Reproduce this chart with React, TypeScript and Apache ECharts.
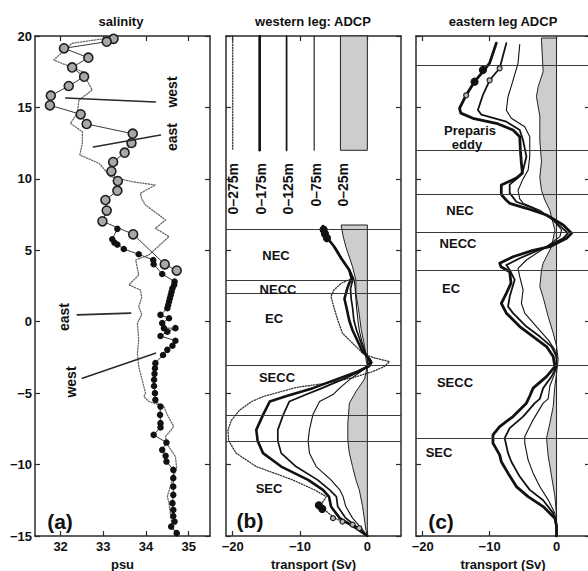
import React, { useEffect, useRef } from 'react';
import * as echarts from 'echarts';

// ---------- axes ----------
const latTicks = [-15, -10, -5, 0, 5, 10, 15, 20];
const psuTicks = [32, 33, 34, 35];
const svTicks = [-20, -10, 0];

// ---------- panel (a): salinity [psu, lat] ----------
const westOpen: number[][] = [
  [33.24, 19.8], [33.08, 19.6], [32.08, 19.14], [32.65, 18.48], [32.27, 17.8], [32.55, 17.15],
  [32.19, 16.5], [31.77, 15.82], [31.75, 15.15], [32.47, 14.52], [32.61, 13.84], [33.69, 13.16],
  [33.66, 12.51], [33.5, 11.83], [33.23, 11.18], [33.19, 10.53], [33.34, 9.85], [33.33, 9.17],
  [33.05, 8.52], [33.08, 7.78], [32.98, 7.03], [33.7, 6.12], [34.44, 4.02], [34.72, 3.58],
];
const westFilled: number[][] = [
  [33.33, 6.5], [33.21, 5.77], [33.26, 5.54], [33.33, 5.4], [33.48, 5.09], [33.83, 4.72],
  [34.17, 4.32], [34.18, 4.02], [34.38, 3.34], [34.67, 2.81], [34.66, 2.58], [34.62, 2.34],
  [34.6, 2.1], [34.58, 1.87], [34.56, 1.64], [34.54, 1.41], [34.52, 1.17], [34.5, 0.94],
  [34.34, 0.48], [34.54, 0.24], [34.38, -0.1], [34.42, -0.45], [34.69, -0.45], [34.5, -0.7],
  [34.34, -1.0], [34.69, -1.33], [34.62, -1.68], [34.5, -1.97], [34.4, -2.33], [34.22, -2.9],
  [34.21, -3.26], [34.2, -3.65], [34.19, -4.06], [34.19, -4.5], [34.21, -5.0], [34.22, -5.47],
  [34.34, -5.94], [34.33, -6.52], [34.34, -7.1], [34.34, -7.4], [34.18, -7.92], [34.48, -8.46],
  [34.38, -8.97], [34.46, -9.39], [34.48, -9.79], [34.64, -10.37], [34.64, -10.95], [34.64, -11.54],
  [34.64, -12.12], [34.62, -12.7], [34.64, -13.17], [34.64, -13.6], [34.67, -13.99], [34.59, -14.34],
  [34.72, -14.8],
];
const eastSal: number[][] = [
  [33.21, 19.9], [32.27, 19.49], [31.84, 18.32], [32.51, 17.5], [32.74, 16.22], [32.43, 15.52],
  [32.39, 14.59], [32.23, 13.89], [32.51, 13.3], [32.51, 12.5], [32.45, 11.67], [32.9, 11.09],
  [33.17, 10.15], [33.68, 9.8], [34.22, 9.57], [33.87, 8.99], [33.9, 8.6], [33.99, 8.17],
  [34.46, 7.12], [34.22, 6.54], [34.54, 5.96], [34.07, 4.68], [33.76, 4.32], [33.83, 3.27],
  [33.6, 2.58], [33.87, 2.22], [33.9, 1.7], [33.83, 1.06], [33.9, 0.5], [33.8, -0.1],
  [33.83, -1.27], [33.8, -2.2], [33.83, -3.14], [33.91, -4.07], [33.99, -5.0], [33.95, -5.24],
  [34.07, -5.59], [34.42, -5.94], [34.5, -6.52], [34.65, -7.34], [34.46, -8.04], [34.48, -8.5],
  [34.69, -9.44], [34.72, -10.25], [34.58, -11.42], [34.5, -12.24], [34.54, -12.7], [34.58, -13.63],
  [34.62, -14.34], [34.69, -14.8],
];
const leaderWestN = [[32.12, 15.66], [34.22, 15.38]];
const leaderEastN = [[32.77, 12.23], [34.34, 13.07]];
const leaderEastS = [[32.39, 0.48], [33.64, 0.6]];
const leaderWestS = [[32.51, -3.95], [34.22, -2.2]];

// ---------- panel (b): western leg ADCP [transport Sv, lat] ----------
const w275: number[][] = [
  [-6.6, 6.7], [-6.2, 6.0], [-5.0, 5.3], [-3.9, 4.44], [-2.7, 3.62], [-2.4, 3.0], [-3.9, 2.69],
  [-5.0, 2.2], [-5.4, 1.76], [-5.0, 1.06], [-4.4, 0.13], [-3.7, -0.8], [-2.2, -1.5], [-0.7, -2.2],
  [0.8, -2.5], [3.3, -2.79], [2.5, -3.14], [0.8, -3.49], [-2, -3.9], [-6, -4.3], [-10.6, -4.6],
  [-15.5, -5.24], [-17.2, -5.59], [-19, -6.2], [-20.2, -6.9], [-20.7, -7.57], [-20.6, -8.34],
  [-19.5, -9.2], [-16.5, -10.14], [-11.1, -11.07], [-7.85, -11.77], [-6.1, -12.24], [-7.0, -12.9],
  [-4.9, -13.75], [-2.0, -14.3], [0, -15],
];
const w175: number[][] = [
  [-6.6, 6.7], [-6.2, 6.0], [-5.0, 5.3], [-3.9, 4.44], [-2.7, 3.62], [-2.3, 3.0], [-2.7, 2.7],
  [-3.0, 2.3], [-3.4, 1.6], [-3.1, 1.0], [-2.7, 0.1], [-2.2, -0.6], [-1.4, -1.4], [-0.7, -2.1],
  [0.3, -2.6], [0.6, -2.85], [0.3, -3.1], [-1.5, -3.5], [-4.1, -3.95], [-8.1, -4.65], [-12, -5.2],
  [-14.5, -5.59], [-15.5, -6.52], [-16.5, -7.57], [-16.3, -8.34], [-15.5, -9.2], [-12.8, -10.14],
  [-8.8, -11.07], [-6.6, -11.77], [-5.7, -12.24], [-5.4, -12.94], [-4.1, -13.75], [-1.5, -14.5], [0, -15],
];
const w125: number[][] = [
  [-6.5, 6.6], [-6.0, 5.9], [-4.8, 5.2], [-3.8, 4.4], [-2.6, 3.6], [-2.1, 3.0], [-2.3, 2.7],
  [-2.5, 2.3], [-2.4, 1.6], [-2.2, 1.0], [-2.0, 0.1], [-1.6, -0.6], [-1.0, -1.4], [-0.4, -2.1],
  [0.2, -2.6], [0.3, -2.85], [0.1, -3.1], [-1.2, -3.5], [-3.5, -4.0], [-7, -4.7], [-9.1, -5.1],
  [-11.6, -5.59], [-12.5, -6.52], [-13.3, -7.57], [-13.3, -8.34], [-12.8, -9.2], [-10.6, -10.14],
  [-7.4, -11.07], [-5.6, -11.77], [-4.6, -12.24], [-4.4, -12.94], [-3.2, -13.75], [-1.2, -14.5], [0, -15],
];
const w75: number[][] = [
  [-6.4, 6.5], [-5.8, 5.8], [-4.6, 5.1], [-3.6, 4.3], [-2.5, 3.5], [-2.0, 3.0], [-1.9, 2.7],
  [-1.8, 2.3], [-1.7, 1.6], [-1.6, 1.0], [-1.4, 0.1], [-1.2, -0.6], [-0.8, -1.4], [-0.3, -2.1],
  [0.0, -2.6], [0.1, -2.85], [0, -3.1], [-1, -3.5], [-2.5, -4.0], [-4, -4.6], [-5.1, -5.1],
  [-7.1, -5.59], [-8.1, -6.52], [-8.6, -7.57], [-8.8, -8.34], [-8.6, -9.2], [-7.6, -10.14],
  [-5.4, -11.07], [-4.1, -11.77], [-3.6, -12.24], [-3.2, -12.94], [-2.2, -13.75], [-0.8, -14.5], [0, -15],
];
const w25: number[][] = [
  [-3.9, 6.77], [-3.6, 6.0], [-3.2, 5.25], [-2.2, 3.85], [-1.7, 2.9], [-1.7, 2.0], [-1.3, 0.83],
  [-0.9, -0.57], [-0.4, -1.74], [-0.2, -2.67], [0, -3.1], [-0.4, -4.0], [-1.7, -4.9], [-2.67, -5.7],
  [-2.9, -7.1], [-2.9, -8.34], [-2.67, -9.2], [-2.2, -10.14], [-1.7, -11.07], [-1.2, -11.77],
  [-0.7, -12.94], [-0.2, -14.6], [0, -15],
];
const wTopBlob = [[-6.5, 6.45], [-6.3, 6.15], [-6.0, 5.85]];
const wBottomBlob = [[-7.2, -12.85], [-6.7, -13.1]];
const wBottomRings = [[-5.1, -13.75], [-3.7, -13.99], [-2.2, -14.2], [-1.2, -14.45]];
const wBoundaries = [6.45, 2.88, 1.99, -3.07, -6.52, -8.34];
// legend keys of panel (b)
const legendX = [-20, -16, -12, -7.9];
const legendY = [20, 12];
const legendBox = [[-4, 20], [-4, 12]];
const legendNames = ['0–275m', '0–175m', '0–125m', '0–75m', '0–25m'];

// ---------- panel (c): eastern leg ADCP ----------
const e175: number[][] = [
  [-9.0, 19.5], [-10, 18.1], [-11, 17.5], [-12.25, 16.8], [-13.5, 15.87], [-14.5, 14.94], [-14.3, 14.6],
  [-12.5, 14.24], [-9.0, 13.89], [-6.5, 13.42], [-5.5, 12.95], [-5.4, 12.0], [-5.25, 11.09], [-5.1, 10.4],
  [-6.0, 10.05], [-8.25, 9.57], [-8.25, 8.9], [-7.5, 8.5], [-7.0, 8.29], [-4.5, 7.94], [-1.5, 7.47],
  [1.0, 6.77], [2.25, 6.19], [1.5, 5.84], [-1.0, 5.25], [-3.5, 5.0], [-6.5, 4.55], [-8.5, 4.09],
  [-8.3, 3.85], [-7.0, 3.5], [-6.8, 2.7], [-7.5, 1.99], [-8.25, 1.29], [-7.5, 0.6], [-5.5, -0.34],
  [-3.5, -1.04], [-1.5, -1.74], [-0.5, -2.44], [-0.25, -3.14], [-1.5, -3.84], [-3.5, -4.65],
  [-4.0, -5.2], [-4.5, -5.7], [-6.5, -6.64], [-8.5, -7.34], [-9.5, -7.92], [-9.5, -8.5], [-8.5, -9.32],
  [-8.25, -9.8], [-7.25, -10.6], [-6.0, -11.54], [-4.25, -12.24], [-2.0, -12.94], [-0.25, -13.75],
  [0, -14.3], [0, -15],
];
const e125: number[][] = [
  [-7.5, 19.5], [-8.5, 17.74], [-10, 16.9], [-11, 15.87], [-11.75, 14.82], [-11.25, 14.5], [-7.5, 14.0],
  [-5.5, 13.42], [-5.0, 12.7], [-4.5, 11.56], [-5, 10.6], [-5.5, 10.2], [-7.0, 9.6], [-7.0, 9.0],
  [-6.0, 8.4], [-3.5, 7.94], [-1.0, 7.3], [1.0, 6.5], [1.7, 6.2], [1.0, 5.84], [-1.5, 5.25],
  [-5.5, 4.44], [-7.5, 3.97], [-7.0, 3.62], [-6.25, 2.93], [-7, 1.76], [-7.25, 1.06], [-6.5, 0.6],
  [-4.5, -0.34], [-2.5, -1.04], [-0.75, -1.74], [0, -2.44], [0, -3.14], [-0.75, -3.84], [-2.0, -4.65],
  [-2.5, -5.4], [-3.25, -5.7], [-5.0, -6.64], [-7.0, -7.45], [-7.75, -8.15], [-7.25, -9.2],
  [-6.75, -9.8], [-5.5, -10.84], [-4.0, -11.77], [-2.0, -12.5], [-0.5, -13.4], [0, -14.3], [0, -15],
];
const e75: number[][] = [
  [-5.5, 19.4], [-5.75, 18.1], [-6.5, 16.9], [-7.25, 15.75], [-7.5, 14.8], [-6.75, 14.24], [-4.75, 13.65],
  [-4.0, 12.95], [-4.0, 11.56], [-4.25, 10.6], [-5.0, 10.0], [-5.75, 9.2], [-5.5, 8.6], [-5.0, 8.3],
  [-2.5, 7.8], [-0.5, 7.12], [0.75, 6.42], [0.5, 5.96], [-1.5, 5.25], [-4.5, 4.32], [-5.75, 3.74],
  [-5.5, 3.15], [-5.0, 2.22], [-5.25, 1.29], [-4.75, 0.6], [-3.0, -0.34], [-1.25, -1.27], [-0.25, -1.97],
  [0, -2.67], [-0.25, -3.6], [-1.0, -4.5], [-1.25, -5.4], [-2.0, -5.7], [-3.5, -6.87], [-4.75, -8.04],
  [-4.75, -8.5], [-4.25, -9.67], [-3.5, -10.6], [-2.5, -11.54], [-1.25, -12.47], [-0.25, -13.4],
  [0, -14.3], [0, -15],
];
const e25: number[][] = [
  [-2.25, 19.86], [-2.25, 19.7], [-2.0, 17.5], [-2.75, 16.45], [-3.0, 15.75], [-2.5, 14.4], [-2.5, 12.7],
  [-2.25, 11.2], [-2.5, 10.1], [-2.25, 9.2], [-1.75, 8.52], [-1.0, 7.8], [-0.25, 6.4], [-0.75, 5.25],
  [-2.0, 4.1], [-2.25, 3.6], [-2.5, 2.46], [-2.0, 1.7], [-1.25, 0.36], [-0.5, -0.8], [0, -1.7],
  [0.25, -2.65], [0, -3.6], [-0.25, -4.5], [-0.5, -5.94], [-1.0, -7.1], [-1.5, -8.15], [-1.25, -9.4],
  [-0.75, -10.8], [-0.25, -12.2], [0, -13.6], [0, -15],
];
const eBlobs = [[-11, 17.62], [-12.25, 16.8]];
const eRings175 = [[-13.5, 15.85]];
const eRings125 = [[-8.5, 17.74], [-10, 16.9]];
const eBoundaries = [17.97, 11.97, 8.92, 6.26, 3.58, -3.07, -8.15];

// ---------- styling ----------
const FONT = '"Liberation Sans", Arial, Helvetica, sans-serif';
const AX = '#2b2b2b';
const INK = '#111';
const GRAYFILL = '#cdcdcd';

const minusFmt = (v: number) => (v < 0 ? '\u2212' + Math.abs(v) : String(v));

function xAxesFor(gi: number, min: number, max: number, ticks: number[], name: string) {
  const line = { show: true, onZero: false, lineStyle: { color: AX, width: 1.5 } };
  return [
    {
      type: 'value', gridIndex: gi, position: 'bottom', min, max,
      axisLine: line,
      axisTick: { show: true, inside: true, length: 5, customValues: ticks, lineStyle: { color: AX, width: 1.2 } },
      axisLabel: {
        show: true, customValues: ticks, formatter: minusFmt, color: INK, fontSize: 13,
        fontWeight: 'bold', fontFamily: FONT, margin: 4,
      },
      splitLine: { show: false },
      name, nameLocation: 'middle', nameGap: 21,
      nameTextStyle: { color: INK, fontSize: 13, fontWeight: 'bold', fontFamily: FONT },
    },
    {
      type: 'value', gridIndex: gi, position: 'top', min, max,
      axisLine: line,
      axisTick: { show: true, inside: true, length: 5, customValues: ticks, lineStyle: { color: AX, width: 1.2 } },
      axisLabel: { show: false },
      splitLine: { show: false },
    },
  ];
}

function yAxesFor(gi: number, labels: boolean) {
  const line = { show: true, onZero: false, lineStyle: { color: AX, width: 1.5 } };
  const tick = { show: true, inside: true, length: 5, lineStyle: { color: AX, width: 1.2 } };
  return [
    {
      type: 'value', gridIndex: gi, position: 'left', min: -15, max: 20, interval: 5,
      axisLine: line, axisTick: tick,
      axisLabel: {
        show: labels, formatter: minusFmt, color: INK, fontSize: 13, fontWeight: 'bold',
        fontFamily: FONT, margin: 3,
      },
      splitLine: { show: false },
    },
    {
      type: 'value', gridIndex: gi, position: 'right', min: -15, max: 20, interval: 5,
      axisLine: line, axisTick: tick, axisLabel: { show: false }, splitLine: { show: false },
    },
  ];
}

function lineS(gi: number, data: number[][], width: number, type: any = 'solid', color = INK, z = 4) {
  return {
    type: 'line', xAxisIndex: gi * 2, yAxisIndex: gi * 2, data, symbol: 'none', showSymbol: false,
    lineStyle: { color, width, type, cap: 'round', join: 'round' }, silent: true, z, animation: false,
  };
}

function fillS(gi: number, profile: number[][], z = 2) {
  return {
    type: 'custom', xAxisIndex: gi * 2, yAxisIndex: gi * 2, silent: true, z,
    data: [profile[0]],
    renderItem: (_p: any, api: any) => {
      const pts = profile.map((p) => api.coord(p));
      const last = profile[profile.length - 1];
      pts.push(api.coord([0, last[1]]));
      pts.push(api.coord([0, profile[0][1]]));
      return {
        type: 'polygon', shape: { points: pts },
        style: { fill: GRAYFILL, stroke: '#222', lineWidth: 1 },
      };
    },
  };
}

function dotS(gi: number, data: number[][], size: number, fill: string, stroke: string, z = 6) {
  return {
    type: 'scatter', xAxisIndex: gi * 2, yAxisIndex: gi * 2, data, symbol: 'circle', symbolSize: size,
    itemStyle: { color: fill, borderColor: stroke, borderWidth: 1.2, opacity: 1 }, silent: true, z,
  };
}

function boundS(gi: number, vals: number[]) {
  return {
    type: 'line', xAxisIndex: gi * 2, yAxisIndex: gi * 2, data: [], silent: true, z: 3,
    markLine: {
      silent: true, symbol: ['none', 'none'], label: { show: false },
      lineStyle: { color: '#3a3a3a', width: 1, type: 'solid' },
      data: vals.map((v) => ({ yAxis: v })),
    },
  };
}

function txt(x: number, y: number, text: string, size = 13, rot = 0, align = 'center', weight = 'bold') {
  return {
    type: 'text', x, y, rotation: rot, silent: true, z: 100,
    style: {
      text, fill: INK, font: `${weight} ${size}px ${FONT}`,
      textAlign: align, textVerticalAlign: 'middle', align, verticalAlign: 'middle',
    },
  };
}

const R = Math.PI / 2;

const legendLine = (i: number) => [[legendX[i], legendY[0]], [legendX[i], legendY[1]]];

const option: any = {
  animation: false,
  backgroundColor: '#ffffff',
  grid: [
    { left: 35, top: 36, width: 175, height: 500, containLabel: false, outerBoundsMode: 'none' },
    { left: 226, top: 36, width: 175, height: 500, containLabel: false, outerBoundsMode: 'none' },
    { left: 416, top: 36, width: 174, height: 500, containLabel: false, outerBoundsMode: 'none' },
  ],
  xAxis: [
    ...xAxesFor(0, 31.4, 35.5, psuTicks, 'psu'),
    ...xAxesFor(1, -21, 5, svTicks, 'transport (Sv)'),
    ...xAxesFor(2, -21, 5, svTicks, 'transport (Sv)'),
  ],
  yAxis: [...yAxesFor(0, true), ...yAxesFor(1, false), ...yAxesFor(2, false)],
  series: [
    // panel (a)
    lineS(0, eastSal, 1.3, [1.2, 1.6], '#6a6a6a', 3),
    {
      ...lineS(0, westOpen, 1, 'solid', '#3a3a3a', 4),
      symbol: 'circle', showSymbol: true, showAllSymbol: true, symbolSize: 9,
      itemStyle: { color: '#a8a8a8', borderColor: '#1e1e1e', borderWidth: 1.6 },
    },
    {
      ...lineS(0, westFilled, 1, 'solid', '#3a3a3a', 5),
      symbol: 'circle', showSymbol: true, showAllSymbol: true, symbolSize: 6.5,
      itemStyle: { color: '#111', borderColor: '#111', borderWidth: 0 },
    },
    lineS(0, leaderWestN, 1.6, 'solid', '#2a2a2a', 6),
    lineS(0, leaderEastN, 1.6, 'solid', '#2a2a2a', 6),
    lineS(0, leaderEastS, 1.6, 'solid', '#2a2a2a', 6),
    lineS(0, leaderWestS, 1.6, 'solid', '#2a2a2a', 6),

    // panel (b)
    fillS(1, w25),
    fillS(1, legendBox),
    boundS(1, wBoundaries),
    lineS(1, legendLine(0), 1.3, [1.2, 1.6], '#333'),
    lineS(1, legendLine(1), 2.6),
    lineS(1, legendLine(2), 1.7),
    lineS(1, legendLine(3), 1.1),
    lineS(1, w275, 1.3, [1.2, 1.6], '#333'),
    lineS(1, w75, 1.1),
    lineS(1, w125, 1.7),
    lineS(1, w175, 2.6),
    dotS(1, wTopBlob, 7, '#111', '#111'),
    dotS(1, wBottomBlob, 7, '#111', '#111'),
    dotS(1, wBottomRings, 5, '#bbb', '#222'),

    // panel (c)
    fillS(2, e25),
    boundS(2, eBoundaries),
    lineS(2, e75, 1.1),
    lineS(2, e125, 1.8),
    lineS(2, e175, 2.8),
    dotS(2, eBlobs, 7, '#111', '#111'),
    dotS(2, eRings175, 5, '#bbb', '#222'),
    dotS(2, eRings125, 5, '#bbb', '#222'),
  ],
  graphic: [
    txt(121, 21, 'salinity'),
    txt(313, 21, 'western leg: ADCP'),
    txt(503, 21, 'eastern leg ADCP'),
    // panel (a) annotations
    txt(172, 92, 'west', 14, R),
    txt(172, 137, 'east', 14, R),
    txt(64, 317, 'east', 14, R),
    txt(71, 382, 'west', 14, R),
    txt(60, 521, '(a)', 21, 0, 'center', 'bold'),
    // panel (b) legend labels
    txt(232.5, 163, legendNames[0], 14, R, 'right'),
    txt(261, 163, legendNames[1], 14, R, 'right'),
    txt(288, 163, legendNames[2], 14, R, 'right'),
    txt(316, 163, legendNames[3], 14, R, 'right'),
    txt(343, 163, legendNames[4], 14, R, 'right'),
    // panel (b) currents
    txt(276, 255, 'NEC'),
    txt(278, 289, 'NECC'),
    txt(274, 318, 'EC'),
    txt(277, 377, 'SECC'),
    txt(269, 488, 'SEC'),
    txt(250, 520, '(b)', 21, 0, 'center', 'bold'),
    // panel (c) currents
    txt(470, 130, 'Preparis', 13),
    txt(467, 144, 'eddy', 13),
    txt(460, 210, 'NEC'),
    txt(458, 243, 'NECC'),
    txt(451, 288, 'EC'),
    txt(455, 382, 'SECC'),
    txt(439, 452, 'SEC'),
    txt(441, 521, '(c)', 21, 0, 'center', 'bold'),
  ],
};

export default function App() {
  const ref = useRef<HTMLDivElement>(null);
  useEffect(() => {
    if (!ref.current) return;
    const chart = echarts.init(ref.current, null, { renderer: 'svg' });
    chart.setOption(option);
    return () => chart.dispose();
  }, []);
  return (
    <div
      ref={ref}
      style={{ position: 'fixed', left: 0, top: 0, width: 588, height: 571, background: '#fff' }}
    />
  );
}
